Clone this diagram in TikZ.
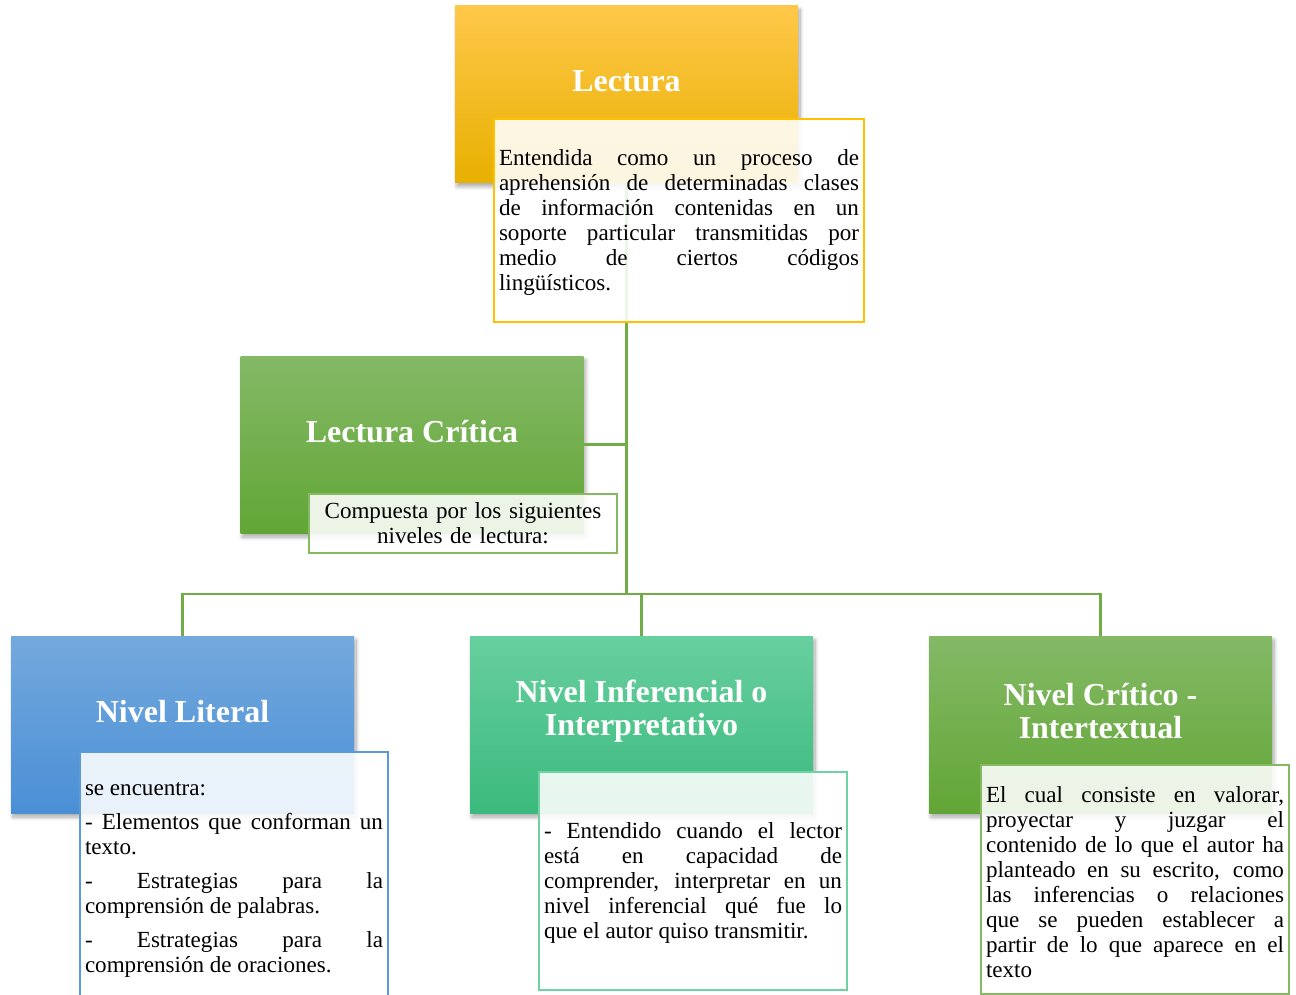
\documentclass[tikz,border=0pt]{standalone}
\usepackage{fontspec}
\setmainfont{Liberation Serif}
\usepackage{tikz}
\usetikzlibrary{positioning, calc, shadows, shadows.blur}
\definecolor{LectYellowTop}{HTML}{FFC84A}
\definecolor{LectYellow}{HTML}{FFC000}
\definecolor{LectYellowBot}{HTML}{E8B000}
\definecolor{CritGreenTop}{HTML}{84B966}
\definecolor{CritGreen}{HTML}{70AD47}
\definecolor{CritGreenBot}{HTML}{62A636}
\definecolor{LitBlueTop}{HTML}{74A9DD}
\definecolor{LitBlue}{HTML}{5B9BD5}
\definecolor{LitBlueBot}{HTML}{4A8FD6}
\definecolor{InfTealTop}{HTML}{68CF9F}
\definecolor{InfTeal}{HTML}{4CC68B}
\definecolor{InfTealBot}{HTML}{3BBA7D}
\hyphenpenalty=10000
\exhyphenpenalty=10000
\hbadness=10000
\tikzset{
  % Box styles
  titlebox/.style={rectangle, minimum width=257.25pt, minimum height=132.75pt, inner sep=0pt,
    blur shadow={shadow xshift=1.5pt, shadow yshift=-3pt, shadow blur radius=3pt, shadow blur steps=8, shadow opacity=35}},
  yellowbox/.style={titlebox, top color=LectYellowTop, middle color=LectYellow, bottom color=LectYellowBot},
  greenbox/.style={titlebox, top color=CritGreenTop, middle color=CritGreen, bottom color=CritGreenBot},
  bluebox/.style={titlebox, top color=LitBlueTop, middle color=LitBlue!95!white, bottom color=LitBlueBot},
  tealbox/.style={titlebox, top color=InfTealTop, middle color=InfTeal, bottom color=InfTealBot},
  notebox/.style={rectangle, draw=#1, line width=0.9pt, fill=white, fill opacity=0.88, text opacity=1,
    inner sep=3.75pt, text width=223.5pt, align=justify, font=\fontsize{17.3}{18.75}\selectfont},
  lownote/.style={execute at begin node={\rule{0pt}{15.5pt}}},
  % Text styles
  titletext/.style={text=white, align=center, font=\fontsize{24}{24.75}\selectfont\bfseries},
  % Connector style
  conn/.style={draw=CritGreen, line width=2.2pt}
}

\begin{document}
\begin{tikzpicture}[x=0.75pt, y=-0.75pt]
  \useasboundingbox (0,0) rectangle (1296,995);

  % Title boxes
  \node[yellowbox] (lect) at (626.5,94) {};
  \node[greenbox] (crit) at (412,444.5) {};
  \node[bluebox] (lit) at (182.5,724.5) {};
  \node[tealbox] (inf) at (641.5,724.5) {};
  \node[greenbox] (ctx) at (1100.5,724.5) {};

  % Connectors
  \coordinate (hub) at (lect.south |- 0,594);
  \draw[conn] (lect.south) -- (hub);
  \draw[conn] (crit.east) -- (crit.east -| lect.south);
  \draw[conn] (hub) -| (lit.north);
  \draw[conn] (hub) -| (inf.north);
  \draw[conn] (hub) -| (ctx.north);

  % Titles
  \node[titletext] (lectT) at (626.5,81) {Lectura};
  \node[titletext] (critT) at (412,432) {Lectura Crítica};
  \node[titletext] (litT) at (182.5,712) {Nivel Literal};
  \node[titletext] (infT) at (641.5,711) {Nivel Inferencial o\\Interpretativo};
  \node[titletext] (ctxT) at (1100.5,711) {Nivel Crítico -\\Intertextual};

  % Notes
  \node[notebox=LectYellow, lownote, text width=270pt, minimum width=277.5pt, minimum height=152.25pt] (lectN) at (679,220.5)
    {Entendida como un proceso de\linebreak aprehensión de determinadas clases\linebreak
     de información contenidas en un\linebreak soporte particular transmitidas por\linebreak
     medio de ciertos códigos\linebreak lingüísticos.};
  \node[notebox=CritGreen!85!white, align=center, minimum height=44.25pt] (critN) at (463,523.5)
    {Compuesta por los siguientes\\niveles de lectura:};
  \node[notebox=LitBlue, lownote, minimum height=186pt] (litN) at (234,876)
    {se encuentra:\par\vspace{6.75pt}
     - Elementos que conforman un\linebreak texto.\par\vspace{6.75pt}
     - Estrategias para la\linebreak comprensión de palabras.\par\vspace{6.75pt}
     - Estrategias para la\linebreak comprensión de oraciones.};
  \node[notebox=InfTeal!80!white, lownote, minimum height=163.5pt] (infN) at (693,881)
    {- Entendido cuando el lector\linebreak está en capacidad de\linebreak
     comprender, interpretar en un\linebreak nivel inferencial qué fue lo\linebreak
     que el autor quiso transmitir.};
  \node[notebox=CritGreen!85!white, lownote, minimum height=171.75pt] (ctxN) at (1135,879.5)
    {El cual consiste en valorar,\linebreak proyectar y juzgar el\linebreak
     contenido de lo que el autor ha\linebreak planteado en su escrito, como\linebreak
     las inferencias o relaciones\linebreak que se pueden establecer a\linebreak
     partir de lo que aparece en el\linebreak texto};
\end{tikzpicture}
\end{document}
